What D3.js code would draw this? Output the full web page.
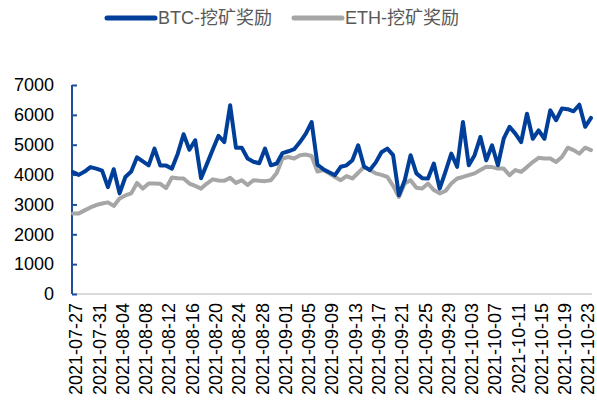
<!DOCTYPE html>
<html>
<head>
  <meta charset="utf-8">
  <script src="https://d3js.org/d3.v7.min.js"></script>
  <style>
    body { margin: 0; background: #fff; }
    text { font-family: "Liberation Sans", "Noto Sans CJK SC", sans-serif; }
    .axis text { font-size: 18px; fill: #000; }
    .legend text { font-size: 18px; fill: #595959; }
  </style>
</head>
<body>
<div id="chart"></div>
<script type="text/javascript">
  // daily categories 2021-07-27 .. 2021-10-24
  var startDay = new Date(2021, 6, 27);
  var dates = d3.timeDay.range(startDay, d3.timeDay.offset(startDay, 90)).map(d3.timeFormat("%Y-%m-%d"));

  var seriesNames = ["BTC-挖矿奖励", "ETH-挖矿奖励"];

  var btc = [4080, 3990, 4100, 4250, 4200, 4130, 3580, 4180, 3370, 3920,
             4100, 4580, 4440, 4310, 4870, 4300, 4300, 4200, 4700, 5350,
             4830, 5150, 3880, 4350, 4830, 5300, 5090, 6320, 4900, 4900,
             4540, 4430, 4380, 4870, 4310, 4370, 4720, 4780, 4850, 5090,
             5370, 5760, 4330, 4180, 4080, 3980, 4260, 4310, 4480, 4980,
             4270, 4150, 4400, 4750, 4870, 4650, 3310, 3810, 4650, 4040,
             3880, 3870, 4370, 3530, 4100, 4700, 4260, 5760, 4310, 4650,
             5260, 4480, 4980, 4310, 5200, 5600, 5370, 5090, 6040, 5200,
             5480, 5200, 6150, 5820, 6210, 6190, 6120, 6340, 5600, 5900];

  var eth = [2700, 2700, 2800, 2900, 2980, 3030, 3070, 2950, 3200, 3300,
             3370, 3720, 3530, 3700, 3700, 3690, 3550, 3900, 3880, 3870,
             3700, 3620, 3530, 3700, 3840, 3800, 3790, 3890, 3720, 3810,
             3650, 3810, 3790, 3780, 3810, 4050, 4540, 4590, 4540, 4650,
             4670, 4620, 4100, 4150, 4040, 3920, 3810, 3950, 3870, 4060,
             4260, 4150, 4040, 3990, 3920, 3620, 3250, 3700, 3810, 3560,
             3530, 3700, 3480, 3370, 3450, 3700, 3870, 3920, 3980, 4040,
             4150, 4260, 4250, 4200, 4200, 3980, 4150, 4090, 4250, 4420,
             4560, 4540, 4540, 4420, 4590, 4900, 4820, 4700, 4900, 4820];

  var yTicks = [0, 1000, 2000, 3000, 4000, 5000, 6000, 7000];
  var colors = ["#003f99", "#a6a6a6"];

  var width = 597, height = 405;

  var svg = d3.select("#chart")
    .append("svg")
      .attr("width", width)
      .attr("height", height);

  var xScale = d3.scalePoint()
    .domain(dates)
    .range([73, 591]);

  var yScale = d3.scaleLinear()
    .domain([0, 7000])
    .range([294, 85]);

  // x axis: light grey base line, rotated date labels every 4 days
  svg.append("line")
    .attr("x1", 73)
    .attr("x2", 592)
    .attr("y1", yScale(0))
    .attr("y2", yScale(0))
    .style("stroke", "#d9d9d9")
    .style("stroke-width", 2);

  var xAxis = svg.append("g")
    .attr("class", "axis");

  xAxis.selectAll("text")
    .data(dates.filter(function(d, i){ return i % 4 === 0; }))
    .enter().append("text")
      .attr("transform", function(d){
        return "translate(" + (xScale(d) + 3) + ",303) rotate(-90)";
      })
      .attr("dy", "0.35em")
      .style("text-anchor", "end")
      .text(function(d){ return d; });

  // y axis: blue line with inward ticks
  var yAxis = d3.axisRight(yScale)
    .tickValues(yTicks)
    .tickSize(5)
    .tickFormat("");

  var yg = svg.append("g")
    .attr("class", "axis")
    .attr("transform", "translate(72,0)")
    .call(yAxis);

  yg.select(".domain")
    .attr("d", "M0," + yScale(7000) + "V" + yScale(0))
    .style("stroke", "#1f4e9c")
    .style("stroke-width", 2);

  yg.selectAll(".tick line")
    .style("stroke", "#1f4e9c")
    .style("stroke-width", 2);

  svg.append("g")
    .attr("class", "axis")
    .selectAll("text")
    .data(yTicks)
    .enter().append("text")
      .attr("x", 54)
      .attr("y", function(d){ return yScale(d); })
      .attr("dy", "0.35em")
      .style("text-anchor", "end")
      .text(function(d){ return d; });

  var line = d3.line()
    .x(function(d, i){ return xScale(dates[i]); })
    .y(function(d){ return yScale(d); });

  [eth, btc].forEach(function(values, k){
    svg.append("path")
      .datum(values)
      .attr("d", line)
      .style("fill", "none")
      .style("stroke", k === 0 ? colors[1] : colors[0])
      .style("stroke-width", 4)
      .style("stroke-linejoin", "round")
      .style("stroke-linecap", "round");
  });

  // legend
  var legend = svg.selectAll(".legend")
    .data(seriesNames)
    .enter().append("g")
      .attr("class", "legend")
      .attr("transform", function(d, i){ return "translate(" + (107 + i * 187) + ",18)"; });

  legend.append("line")
    .attr("x1", 0)
    .attr("x2", 48)
    .style("stroke", function(d, i){ return colors[i]; })
    .style("stroke-width", 5)
    .style("stroke-linecap", "round");

  legend.append("text")
    .attr("x", 51)
    .attr("dy", "0.35em")
    .text(function(d){ return d; });
</script>
</body>
</html>
